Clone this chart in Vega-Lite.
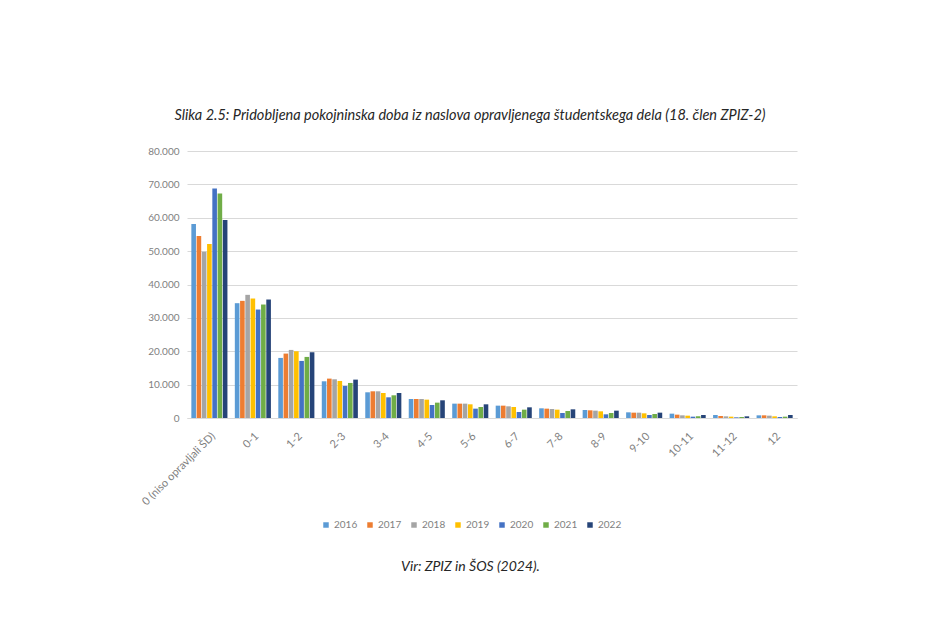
{
  "$schema": "https://vega.github.io/schema/vega-lite/v6.json",
  "width": 610,
  "height": 267,
  "autosize": "none",
  "padding": {"left": 187, "top": 151, "right": 143, "bottom": 222},
  "background": "#ffffff",
  "title": {
    "text": "Slika 2.5: Pridobljena pokojninska doba iz naslova opravljenega študentskega dela (18. člen ZPIZ-2)",
    "font": "Lato",
    "fontSize": 14.5,
    "fontStyle": "italic",
    "fontWeight": "normal",
    "color": "#262626",
    "anchor": "middle",
    "dx": -22,
    "offset": 23
  },
  "config": {
    "view": {"stroke": null},
    "font": "Lato"
  },
  "data": {
    "values": [
      {"g": "0 (niso opravljali ŠD)", "y": "2016", "v": 58100},
      {"g": "0 (niso opravljali ŠD)", "y": "2017", "v": 54500},
      {"g": "0 (niso opravljali ŠD)", "y": "2018", "v": 49800},
      {"g": "0 (niso opravljali ŠD)", "y": "2019", "v": 52100},
      {"g": "0 (niso opravljali ŠD)", "y": "2020", "v": 68800},
      {"g": "0 (niso opravljali ŠD)", "y": "2021", "v": 67300},
      {"g": "0 (niso opravljali ŠD)", "y": "2022", "v": 59300},
      {"g": "0-1", "y": "2016", "v": 34400},
      {"g": "0-1", "y": "2017", "v": 35100},
      {"g": "0-1", "y": "2018", "v": 36900},
      {"g": "0-1", "y": "2019", "v": 35800},
      {"g": "0-1", "y": "2020", "v": 32500},
      {"g": "0-1", "y": "2021", "v": 34000},
      {"g": "0-1", "y": "2022", "v": 35500},
      {"g": "1-2", "y": "2016", "v": 18000},
      {"g": "1-2", "y": "2017", "v": 19300},
      {"g": "1-2", "y": "2018", "v": 20400},
      {"g": "1-2", "y": "2019", "v": 20000},
      {"g": "1-2", "y": "2020", "v": 17100},
      {"g": "1-2", "y": "2021", "v": 18300},
      {"g": "1-2", "y": "2022", "v": 19700},
      {"g": "2-3", "y": "2016", "v": 11000},
      {"g": "2-3", "y": "2017", "v": 11800},
      {"g": "2-3", "y": "2018", "v": 11600},
      {"g": "2-3", "y": "2019", "v": 11100},
      {"g": "2-3", "y": "2020", "v": 9600},
      {"g": "2-3", "y": "2021", "v": 10500},
      {"g": "2-3", "y": "2022", "v": 11500},
      {"g": "3-4", "y": "2016", "v": 7700},
      {"g": "3-4", "y": "2017", "v": 8000},
      {"g": "3-4", "y": "2018", "v": 8000},
      {"g": "3-4", "y": "2019", "v": 7500},
      {"g": "3-4", "y": "2020", "v": 6200},
      {"g": "3-4", "y": "2021", "v": 6800},
      {"g": "3-4", "y": "2022", "v": 7500},
      {"g": "4-5", "y": "2016", "v": 5700},
      {"g": "4-5", "y": "2017", "v": 5700},
      {"g": "4-5", "y": "2018", "v": 5700},
      {"g": "4-5", "y": "2019", "v": 5500},
      {"g": "4-5", "y": "2020", "v": 3900},
      {"g": "4-5", "y": "2021", "v": 4600},
      {"g": "4-5", "y": "2022", "v": 5300},
      {"g": "5-6", "y": "2016", "v": 4300},
      {"g": "5-6", "y": "2017", "v": 4300},
      {"g": "5-6", "y": "2018", "v": 4300},
      {"g": "5-6", "y": "2019", "v": 4100},
      {"g": "5-6", "y": "2020", "v": 2800},
      {"g": "5-6", "y": "2021", "v": 3300},
      {"g": "5-6", "y": "2022", "v": 4100},
      {"g": "6-7", "y": "2016", "v": 3700},
      {"g": "6-7", "y": "2017", "v": 3700},
      {"g": "6-7", "y": "2018", "v": 3500},
      {"g": "6-7", "y": "2019", "v": 3300},
      {"g": "6-7", "y": "2020", "v": 1800},
      {"g": "6-7", "y": "2021", "v": 2500},
      {"g": "6-7", "y": "2022", "v": 3200},
      {"g": "7-8", "y": "2016", "v": 2900},
      {"g": "7-8", "y": "2017", "v": 2800},
      {"g": "7-8", "y": "2018", "v": 2700},
      {"g": "7-8", "y": "2019", "v": 2500},
      {"g": "7-8", "y": "2020", "v": 1500},
      {"g": "7-8", "y": "2021", "v": 2100},
      {"g": "7-8", "y": "2022", "v": 2600},
      {"g": "8-9", "y": "2016", "v": 2400},
      {"g": "8-9", "y": "2017", "v": 2300},
      {"g": "8-9", "y": "2018", "v": 2200},
      {"g": "8-9", "y": "2019", "v": 2000},
      {"g": "8-9", "y": "2020", "v": 1100},
      {"g": "8-9", "y": "2021", "v": 1500},
      {"g": "8-9", "y": "2022", "v": 2200},
      {"g": "9-10", "y": "2016", "v": 1700},
      {"g": "9-10", "y": "2017", "v": 1600},
      {"g": "9-10", "y": "2018", "v": 1600},
      {"g": "9-10", "y": "2019", "v": 1400},
      {"g": "9-10", "y": "2020", "v": 900},
      {"g": "9-10", "y": "2021", "v": 1200},
      {"g": "9-10", "y": "2022", "v": 1600},
      {"g": "10-11", "y": "2016", "v": 1300},
      {"g": "10-11", "y": "2017", "v": 1000},
      {"g": "10-11", "y": "2018", "v": 800},
      {"g": "10-11", "y": "2019", "v": 700},
      {"g": "10-11", "y": "2020", "v": 400},
      {"g": "10-11", "y": "2021", "v": 500},
      {"g": "10-11", "y": "2022", "v": 900},
      {"g": "11-12", "y": "2016", "v": 900},
      {"g": "11-12", "y": "2017", "v": 600},
      {"g": "11-12", "y": "2018", "v": 500},
      {"g": "11-12", "y": "2019", "v": 400},
      {"g": "11-12", "y": "2020", "v": 200},
      {"g": "11-12", "y": "2021", "v": 300},
      {"g": "11-12", "y": "2022", "v": 500},
      {"g": "12", "y": "2016", "v": 800},
      {"g": "12", "y": "2017", "v": 800},
      {"g": "12", "y": "2018", "v": 700},
      {"g": "12", "y": "2019", "v": 500},
      {"g": "12", "y": "2020", "v": 300},
      {"g": "12", "y": "2021", "v": 400},
      {"g": "12", "y": "2022", "v": 900}
    ]
  },
  "mark": {"type": "bar"},
  "encoding": {
    "x": {
      "field": "g",
      "type": "nominal",
      "sort": null,
      "scale": {"paddingInner": 0.17, "paddingOuter": 0.1},
      "title": "Vir: ZPIZ in ŠOS (2024).",
      "axis": {
        "labelAngle": -45,
        "labelFontSize": 11,
        "labelColor": "#7f7f7f",
        "labelPadding": 12,
        "ticks": false,
        "domainColor": "#d9d9d9",
        "titleFont": "Lato",
        "titleFontSize": 14,
        "titleFontStyle": "italic",
        "titleFontWeight": "normal",
        "titleColor": "#262626",
        "titleY": 141,
        "titleX": 283
      }
    },
    "xOffset": {
      "field": "y",
      "type": "nominal",
      "scale": {"paddingInner": 0.12}
    },
    "y": {
      "field": "v",
      "type": "quantitative",
      "title": null,
      "scale": {"domain": [0, 80000]},
      "axis": {
        "values": [0, 10000, 20000, 30000, 40000, 50000, 60000, 70000, 80000],
        "labelExpr": "replace(format(datum.value, ','), ',', '.')",
        "labelFontSize": 10,
        "labelColor": "#7f7f7f",
        "labelPadding": 8,
        "ticks": false,
        "domain": false,
        "gridColor": "#d9d9d9",
        "gridWidth": 1
      }
    },
    "color": {
      "field": "y",
      "type": "nominal",
      "title": null,
      "scale": {
        "domain": ["2016", "2017", "2018", "2019", "2020", "2021", "2022"],
        "range": ["#5b9bd5", "#ed7d31", "#a5a5a5", "#ffc000", "#4472c4", "#70ad47", "#264478"]
      },
      "legend": {
        "orient": "none",
        "direction": "horizontal",
        "legendX": 134,
        "legendY": 369,
        "columns": 7,
        "symbolType": "square",
        "symbolSize": 30,
        "labelFontSize": 10,
        "labelColor": "#7f7f7f",
        "columnPadding": 7,
        "labelOffset": 3
      }
    }
  }
}
